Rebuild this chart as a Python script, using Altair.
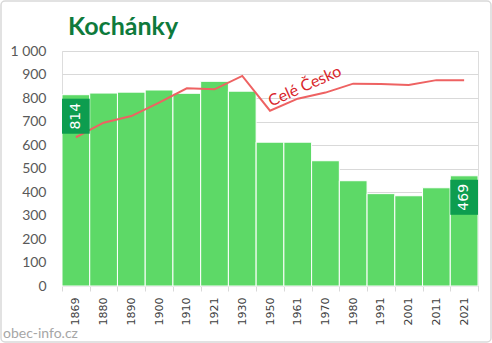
import altair as alt
import pandas as pd

# ---- data -----------------------------------------------------------
years = ["1869", "1880", "1890", "1900", "1910", "1921", "1930", "1950",
         "1961", "1970", "1980", "1991", "2001", "2011", "2021"]
population = [814, 821, 825, 834, 820, 871, 829, 612, 612, 533, 448, 393, 384, 418, 469]
czechia_scaled = [633, 695, 723, 780, 841, 837, 894, 746, 797, 823, 861, 860, 855, 876, 876]
labelled_years = ["1869", "2021"]
title_text = "Kochánky"
line_label = "Celé Česko"
line_label_year = "1961"
line_label_value = 855
watermark = "obec-info.cz"
y_ticks = [0, 100, 200, 300, 400, 500, 600, 700, 800, 900, 1000]

df = pd.DataFrame({"year": years, "pop": population, "cz": czechia_scaled})
lab_df = pd.DataFrame({"year": [line_label_year], "v": [line_label_value], "t": [line_label]})
wm_df = pd.DataFrame({"t": [watermark]})
title_df = pd.DataFrame({"t": [title_text]})

W, H = 416, 235

x_axis = alt.Axis(labelAngle=270, labelFont="DejaVu Sans", labelFontSize=11,
                  labelColor="#404040", labelPadding=6, tickBand="extent",
                  ticks=True, tickSize=5, tickColor="#d9d9d9",
                  domainColor="#d9d9d9", grid=False)
y_axis = alt.Axis(values=y_ticks, tickCount=20, ticks=False, domain=False, grid=True,
                  gridColor="#d9d9d9", labelFont="Lato", labelFontSize=14,
                  labelColor="#595959", labelPadding=16, labelOverlap=False,
                  labelExpr="replace(format(datum.value, ','), ',', ' ')")
x_scale = alt.Scale(paddingInner=0, paddingOuter=0)
y_scale = alt.Scale(domain=[0, 1000], nice=False)


def X():
    return alt.X("year:O", sort=years, title=None, scale=x_scale, axis=x_axis)


def Y(field):
    return alt.Y(field, scale=y_scale, title=None, axis=y_axis)


base = alt.Chart(df)

bars = base.mark_bar(color="#5dd967", stroke="white", strokeWidth=1).encode(
    x=X(), y=Y("pop:Q"))

line = base.mark_line(color="#ee6262", strokeWidth=2).encode(
    x=X(), y=Y("cz:Q"))

boxes = base.transform_filter(
    alt.FieldOneOfPredicate(field="year", oneOf=labelled_years)
).transform_calculate(
    top="datum.pop - 17", bot="datum.pop - 166", mid="datum.pop - 91.5"
)

box_rect = boxes.mark_bar(color="#0d9d4f").encode(
    x=X(), y=Y("top:Q"), y2="bot:Q")

box_text = boxes.mark_text(angle=270, color="white", font="DejaVu Sans", fontSize=14,
                           align="center", baseline="middle").encode(
    x=X(), y=Y("mid:Q"), text=alt.Text("pop:Q"))

line_lab = alt.Chart(lab_df).mark_text(angle=336, color="#d9262c", font="Lato",
                                       fontSize=16, dx=6, dy=4, align="center",
                                       baseline="middle").encode(
    x=X(), y=Y("v:Q"), text="t:N")

title = alt.Chart(title_df).mark_text(color="#0e7a3c", font="Lato", fontSize=25,
                                      fontWeight="bold", align="left",
                                      baseline="alphabetic").encode(
    x=alt.value(6), y=alt.value(-16), text="t:N")

wm = alt.Chart(wm_df).mark_text(color="#a6a6a6", font="Lato", fontSize=14,
                                align="left", baseline="alphabetic").encode(
    x=alt.value(-59), y=alt.value(H + 52), text="t:N")

border = alt.Chart(wm_df).mark_rect(fill=None, stroke="#d9d9d9", strokeWidth=1.5,
                                    cornerRadius=4).encode(
    x=alt.value(-61), x2=alt.value(W + 13), y=alt.value(-50), y2=alt.value(H + 56))

chart = alt.layer(bars, line, box_rect, box_text, line_lab, title, wm, border).properties(
    width=W, height=H,
    autosize=alt.AutoSizeParams(type="none"),
    padding={"left": 62, "top": 51, "right": 14, "bottom": 57},
).configure_view(stroke=None).configure(background="white")

chart.save("out.html", embed_options={"renderer": "svg", "actions": False})
